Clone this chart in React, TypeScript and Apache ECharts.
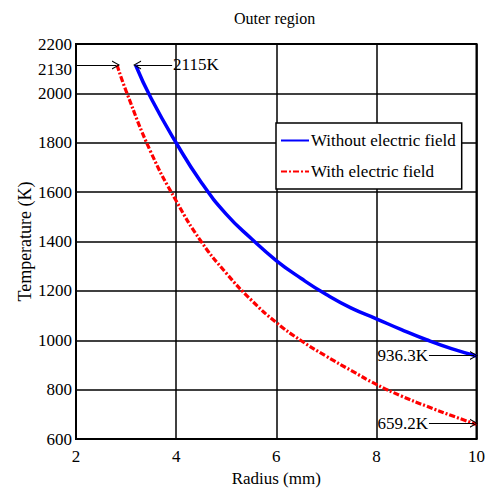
import React, { useEffect, useRef } from "react";
import * as echarts from "echarts";

const TITLE = "Outer region";
const X_NAME = "Radius (mm)";
const Y_NAME = "Temperature (K)";
const SERIES_NAMES = ["Without electric field", "With electric field"];

const blueR = [3.19, 3.5, 4.0, 4.5, 5.0, 5.5, 6.0, 6.5, 7.0, 7.5, 8.0, 8.5, 9.0, 9.5, 10.0];
const blueT = [2115, 1980, 1800, 1640, 1511, 1412, 1323, 1250, 1185, 1130, 1087, 1043, 1002, 966, 936.3];

const redR = [2.82, 3.0, 3.5, 4.0, 4.5, 5.0, 5.5, 6.0, 6.5, 7.0, 7.5, 8.0, 8.5, 9.0, 9.5, 10.0];
const redT = [2115, 2010, 1760, 1565, 1400, 1272, 1163, 1072, 998, 935, 877, 821, 774, 733, 695, 659.2];

const Y_LABELS = [600, 800, 1000, 1200, 1400, 1600, 1800, 2000, 2200];
const EXTRA_Y_LABEL = "2130";
const START_LABEL = "2115K";
const END_BLUE_LABEL = "936.3K";
const END_RED_LABEL = "659.2K";

const FONT = "Liberation Serif";
const CHEVRON = "path://M0,10 L5,0 L10,10 L8.6,10 L5,2.6 L1.4,10 Z";

export default function App() {
  const ref = useRef<HTMLDivElement>(null);
  useEffect(() => {
    if (!ref.current) return;
    const chart = echarts.init(ref.current, null, { renderer: "svg" });
    const arrowLine = { color: "#000", width: 1, type: "solid" as const };
    const markLabel = { show: true, position: "start", fontFamily: FONT, fontSize: 17, color: "#000", distance: 1 };
    const option: any = {
      animation: false,
      backgroundColor: "#fff",
      textStyle: { fontFamily: FONT, color: "#000" },
      title: {
        text: TITLE,
        left: 234,
        top: 10,
        padding: 0,
        textStyle: { fontFamily: FONT, fontSize: 16, fontWeight: "normal", color: "#000" },
      },
      grid: {
        left: 76,
        right: 10,
        top: 44,
        bottom: 49,
        show: true,
        borderColor: "#000",
        borderWidth: 2,
        backgroundColor: "#fff",
      },
      legend: {
        orient: "vertical",
        left: 276,
        top: 123,
        backgroundColor: "#fff",
        borderColor: "#000",
        borderWidth: 1.5,
        borderRadius: 0,
        padding: [9, 6, 9, 4],
        itemWidth: 28,
        itemHeight: 14,
        itemGap: 14,
        itemStyle: { opacity: 0 },
        textStyle: { fontFamily: FONT, fontSize: 17, color: "#000", padding: [0, 0, 0, -3] },
        data: SERIES_NAMES,
      },
      xAxis: {
        type: "value",
        min: 2,
        max: 10,
        interval: 2,
        name: X_NAME,
        nameLocation: "middle",
        nameGap: 31,
        nameMoveOverlap: false,
        nameTextStyle: { fontFamily: FONT, fontSize: 17, color: "#000" },
        axisLine: { show: true, lineStyle: { color: "#000", width: 2 } },
        axisTick: { show: false },
        axisLabel: { fontFamily: FONT, fontSize: 17, color: "#000", margin: 9 },
        splitLine: { show: true, lineStyle: { color: "#000", width: 1.5 } },
      },
      yAxis: {
        type: "value",
        min: 600,
        max: 2200,
        interval: 200,
        name: Y_NAME,
        nameLocation: "middle",
        nameGap: 42,
        nameMoveOverlap: false,
        nameTextStyle: { fontFamily: FONT, fontSize: 18, color: "#000" },
        axisLine: { show: true, lineStyle: { color: "#000", width: 2 } },
        axisTick: { show: false },
        axisLabel: {
          fontFamily: FONT,
          fontSize: 17,
          color: "#000",
          margin: 4,
          formatter: (v: number) => (Y_LABELS.includes(v) ? String(v) : ""),
        },
        splitLine: { show: true, lineStyle: { color: "#000", width: 1.5 } },
      },
      graphic: [
        {
          type: "text",
          right: 488 - 72,
          top: 61,
          style: { text: EXTRA_Y_LABEL, fontFamily: FONT, fontSize: 17, fill: "#000" },
        },
      ],
      series: [
        {
          name: SERIES_NAMES[0],
          type: "line",
          symbol: "none",
          smooth: 0.5,
          data: blueR.map((r, i) => [r, blueT[i]]),
          lineStyle: { color: "#0000ff", width: 3.5 },
          itemStyle: { color: "#0000ff" },
          z: 3,
          markLine: {
            silent: true,
            symbol: ["none", CHEVRON],
            symbolSize: [9, 8],
            lineStyle: arrowLine,
            itemStyle: { color: "#000" },
            label: markLabel,
            data: [
              [
                { coord: [3.92, blueT[0]], label: { formatter: START_LABEL } },
                { coord: [blueR[0] + 0.03, blueT[0]] },
              ],
              [
                { coord: [9.05, 938], label: { formatter: END_BLUE_LABEL } },
                { coord: [9.95, 938] },
              ],
            ],
          },
        },
        {
          name: SERIES_NAMES[1],
          type: "line",
          symbol: "none",
          smooth: 0.5,
          data: redR.map((r, i) => [r, redT[i]]),
          lineStyle: { color: "#ff0000", width: 3.2, type: [6, 2, 2, 2] },
          itemStyle: { color: "#ff0000" },
          z: 3,
          markLine: {
            silent: true,
            symbol: ["none", CHEVRON],
            symbolSize: [9, 8],
            lineStyle: arrowLine,
            itemStyle: { color: "#000" },
            label: markLabel,
            data: [
              [
                { coord: [2, redT[0]], label: { show: false } },
                { coord: [redR[0] - 0.02, redT[0]] },
              ],
              [
                { coord: [9.05, 664], label: { formatter: END_RED_LABEL } },
                { coord: [9.95, 664] },
              ],
            ],
          },
        },
      ],
    };
    chart.setOption(option);
    return () => chart.dispose();
  }, []);
  return (
    <div
      ref={ref}
      style={{ position: "fixed", left: 0, top: 0, width: 488, height: 492 }}
    />
  );
}
